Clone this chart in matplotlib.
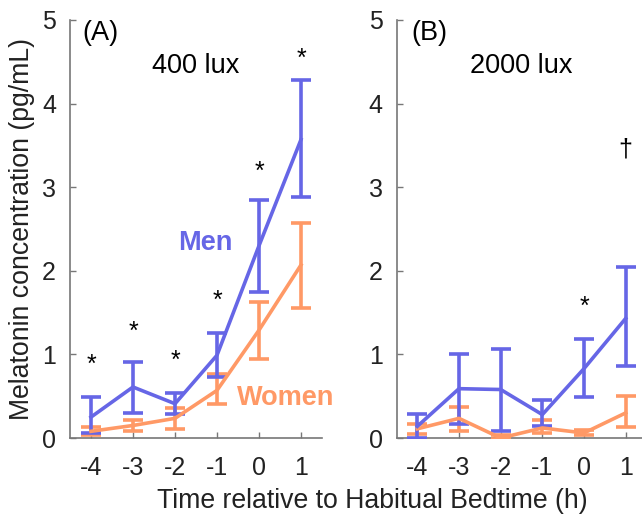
import matplotlib
matplotlib.use("Agg")
import matplotlib.pyplot as plt
import numpy as np

plt.rcParams['font.family'] = ['Liberation Sans', 'DejaVu Sans']

hours = [-4, -3, -2, -1, 0, 1]
xtick_labels = ['-4', '-3', '-2', '-1', '0', '1']

# Panel A: 400 lux
men_400 = [0.25, 0.61, 0.41, 0.99, 2.30, 3.57]
men_400_lo = [0.06, 0.30, 0.29, 0.73, 1.75, 2.88]
men_400_hi = [0.49, 0.91, 0.54, 1.26, 2.85, 4.28]
women_400 = [0.08, 0.15, 0.235, 0.57, 1.29, 2.07]
women_400_lo = [0.03, 0.08, 0.11, 0.41, 0.95, 1.56]
women_400_hi = [0.13, 0.22, 0.355, 0.76, 1.63, 2.57]
stars_400_x = [-4, -3, -2, -1, 0, 1]
stars_400_y = [0.88, 1.27, 0.92, 1.64, 3.18, 4.53]

# Panel B: 2000 lux
men_2000 = [0.14, 0.59, 0.58, 0.28, 0.83, 1.43]
men_2000_lo = [0.00, 0.17, 0.08, 0.14, 0.49, 0.865]
men_2000_hi = [0.29, 1.01, 1.06, 0.46, 1.19, 2.05]
women_2000 = [0.11, 0.235, 0.0, 0.12, 0.06, 0.30]
women_2000_lo = [0.05, 0.08, -0.01, 0.06, 0.03, 0.13]
women_2000_hi = [0.17, 0.37, 0.03, 0.21, 0.10, 0.50]
stars_2000_x = [0]
stars_2000_y = [1.57]
dagger_2000_x = [1]
dagger_2000_y = [3.45]

blue = '#6666E6'
orange = '#FF9966'
fs_big = 19.5

fig = plt.figure(figsize=(6.42, 5.2), dpi=100)
axA = fig.add_axes([70/642, 1-438/520, 252/642, 418/520])
axB = fig.add_axes([396.5/642, 1-438/520, 250/642, 418/520])

def draw(ax, men, mlo, mhi, wom, wlo, whi):
    for vals, lo, hi, c in [(wom, wlo, whi, orange), (men, mlo, mhi, blue)]:
        v = np.array(vals); l = np.array(lo); h = np.array(hi)
        ax.errorbar(hours, v, yerr=[v - l, h - v], color=c, lw=2.6,
                    elinewidth=2.6, capsize=7, capthick=2.6, zorder=3)
    ax.set_xlim(-4.5, 1.5)
    ax.set_ylim(0, 5)
    ax.set_xticks(hours)
    ax.set_xticklabels(xtick_labels)
    ax.set_yticks([0, 1, 2, 3, 4, 5])
    for s in ['top', 'right']:
        ax.spines[s].set_visible(False)
    for s in ['left', 'bottom']:
        ax.spines[s].set_color('#777777')
        ax.spines[s].set_linewidth(1.2)
    ax.tick_params(direction='in', length=4, width=1, color='#777777',
                   labelsize=18, labelcolor='#222222')
    ax.tick_params(axis='x', pad=13)
    ax.tick_params(axis='y', pad=10)

draw(axA, men_400, men_400_lo, men_400_hi, women_400, women_400_lo, women_400_hi)
draw(axB, men_2000, men_2000_lo, men_2000_hi, women_2000, women_2000_lo, women_2000_hi)

for x, y in zip(stars_400_x, stars_400_y):
    axA.text(x, y, '*', ha='center', va='center', fontsize=18, color='black')
for x, y in zip(stars_2000_x, stars_2000_y):
    axB.text(x, y, '*', ha='center', va='center', fontsize=18, color='black')
for x, y in zip(dagger_2000_x, dagger_2000_y):
    axB.text(x, y, '\u2020', ha='center', va='center', fontsize=18, color='black')

axA.text(0.05, 0.97, '(A)', transform=axA.transAxes, fontsize=fs_big, va='center', ha='left')
axA.text(0.5, 0.89, '400 lux', transform=axA.transAxes, fontsize=fs_big, va='center', ha='center')
axB.text(0.06, 0.97, '(B)', transform=axB.transAxes, fontsize=fs_big, va='center', ha='left')
axB.text(0.5, 0.89, '2000 lux', transform=axB.transAxes, fontsize=fs_big, va='center', ha='center')

axA.text(-1.28, 2.33, 'Men', color=blue, fontsize=fs_big, fontweight='bold', va='center', ha='center')
axA.text(0.63, 0.48, 'Women', color=orange, fontsize=fs_big, fontweight='bold', va='center', ha='center')

fig.text(22/642, 1-229/520, 'Melatonin concentration (pg/mL)', fontsize=19.2, rotation=90,
         ha='center', va='center', color='#222222')
fig.text(372/642, 1-501/520, 'Time relative to Habitual Bedtime (h)', fontsize=19.2,
         ha='center', va='center', color='#222222')

fig.savefig('out.png', dpi=100)
